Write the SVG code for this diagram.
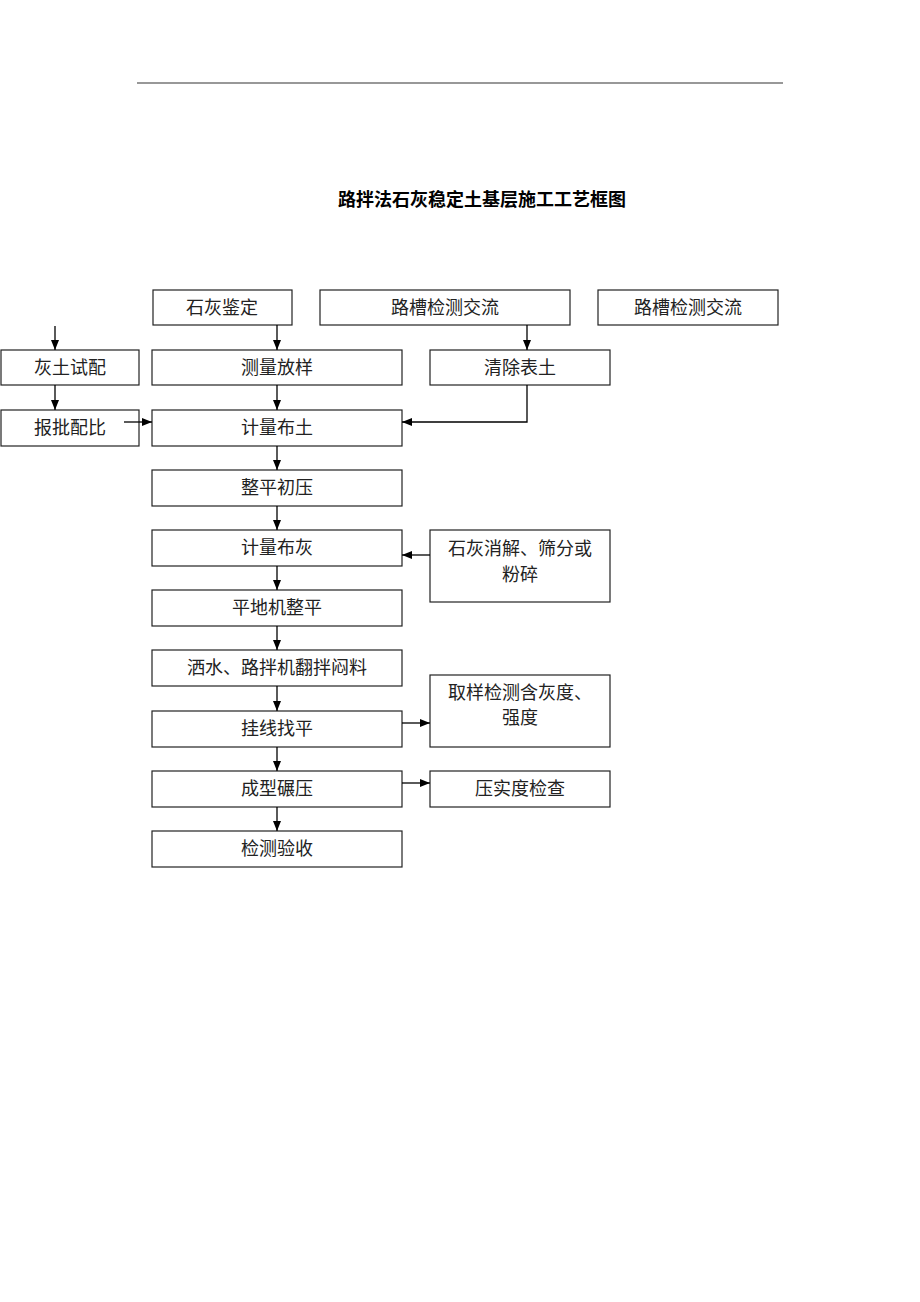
<svg xmlns="http://www.w3.org/2000/svg" width="920" height="1302" viewBox="0 0 920 1302">
<style>
.box{fill:#fff;stroke:#222;stroke-width:1.2}
.t{font-family:"Liberation Serif","Noto Sans CJK SC",serif;font-size:18px;fill:#222;text-anchor:middle}
.title{font-family:"Liberation Sans","Noto Sans CJK SC",sans-serif;font-size:18px;font-weight:bold;fill:#000;text-anchor:middle}
.c{fill:none;stroke:#000;stroke-width:1.3}
</style>
<defs>
<marker id="ah" markerWidth="10" markerHeight="8" refX="10" refY="4" orient="auto" markerUnits="userSpaceOnUse">
<path d="M0,0 L10,4 L0,8 Z" fill="#000"/>
</marker>
</defs>
<rect width="920" height="1302" fill="#fff"/>
<line x1="137" y1="83" x2="783" y2="83" stroke="#333" stroke-width="1.2"/>
<text class="title" x="482" y="206">路拌法石灰稳定土基层施工工艺框图</text>

<g id="n1"><rect class="box" x="153" y="290" width="139" height="35"/><text class="t" x="222" y="314">石灰鉴定</text></g>
<g id="n2"><rect class="box" x="320" y="290" width="250" height="35"/><text class="t" x="445" y="314">路槽检测交流</text></g>
<g id="n3"><rect class="box" x="598" y="290" width="180" height="35"/><text class="t" x="688" y="314">路槽检测交流</text></g>
<g id="n4"><rect class="box" x="1" y="350" width="138" height="35"/><text class="t" x="70" y="374">灰土试配</text></g>
<g id="n5"><rect class="box" x="152" y="350" width="250" height="35"/><text class="t" x="277" y="374">测量放样</text></g>
<g id="n6"><rect class="box" x="430" y="350" width="180" height="35"/><text class="t" x="520" y="374">清除表土</text></g>
<g id="n7"><rect class="box" x="1" y="410" width="138" height="36"/><text class="t" x="70" y="434">报批配比</text></g>
<g id="n8"><rect class="box" x="152" y="410" width="250" height="36"/><text class="t" x="277" y="434">计量布土</text></g>
<g id="n9"><rect class="box" x="152" y="470" width="250" height="36"/><text class="t" x="277" y="494">整平初压</text></g>
<g id="n10"><rect class="box" x="152" y="530" width="250" height="36"/><text class="t" x="277" y="554">计量布灰</text></g>
<g id="n11"><rect class="box" x="430" y="530" width="180" height="72"/><text class="t" x="520" y="555">石灰消解、筛分或</text><text class="t" x="520" y="581">粉碎</text></g>
<g id="n12"><rect class="box" x="152" y="590" width="250" height="36"/><text class="t" x="277" y="614">平地机整平</text></g>
<g id="n13"><rect class="box" x="152" y="650" width="250" height="36"/><text class="t" x="277" y="674">洒水、路拌机翻拌闷料</text></g>
<g id="n14"><rect class="box" x="430" y="675" width="180" height="72"/><text class="t" x="520" y="699">取样检测含灰度、</text><text class="t" x="520" y="724">强度</text></g>
<g id="n15"><rect class="box" x="152" y="711" width="250" height="36"/><text class="t" x="277" y="735">挂线找平</text></g>
<g id="n16"><rect class="box" x="152" y="771" width="250" height="36"/><text class="t" x="277" y="795">成型碾压</text></g>
<g id="n17"><rect class="box" x="430" y="771" width="180" height="36"/><text class="t" x="520" y="795">压实度检查</text></g>
<g id="n18"><rect class="box" x="152" y="831" width="250" height="36"/><text class="t" x="277" y="855">检测验收</text></g>

<g id="connectors">
<line class="c" x1="55" y1="326" x2="55" y2="350" marker-end="url(#ah)"/>
<line class="c" x1="55" y1="385" x2="55" y2="410" marker-end="url(#ah)"/>
<line class="c" x1="124" y1="422" x2="152" y2="422" marker-end="url(#ah)"/>
<line class="c" x1="277" y1="325" x2="277" y2="350" marker-end="url(#ah)"/>
<line class="c" x1="277" y1="385" x2="277" y2="410" marker-end="url(#ah)"/>
<line class="c" x1="527" y1="325" x2="527" y2="350" marker-end="url(#ah)"/>
<polyline class="c" points="527,385 527,422 402,422" marker-end="url(#ah)"/>
<line class="c" x1="277" y1="446" x2="277" y2="470" marker-end="url(#ah)"/>
<line class="c" x1="277" y1="506" x2="277" y2="530" marker-end="url(#ah)"/>
<line class="c" x1="430" y1="555" x2="402" y2="555" marker-end="url(#ah)"/>
<line class="c" x1="277" y1="566" x2="277" y2="590" marker-end="url(#ah)"/>
<line class="c" x1="277" y1="626" x2="277" y2="650" marker-end="url(#ah)"/>
<line class="c" x1="277" y1="686" x2="277" y2="711" marker-end="url(#ah)"/>
<line class="c" x1="402" y1="723" x2="430" y2="723" marker-end="url(#ah)"/>
<line class="c" x1="277" y1="747" x2="277" y2="771" marker-end="url(#ah)"/>
<line class="c" x1="402" y1="783" x2="430" y2="783" marker-end="url(#ah)"/>
<line class="c" x1="277" y1="807" x2="277" y2="831" marker-end="url(#ah)"/>
</g>
</svg>
